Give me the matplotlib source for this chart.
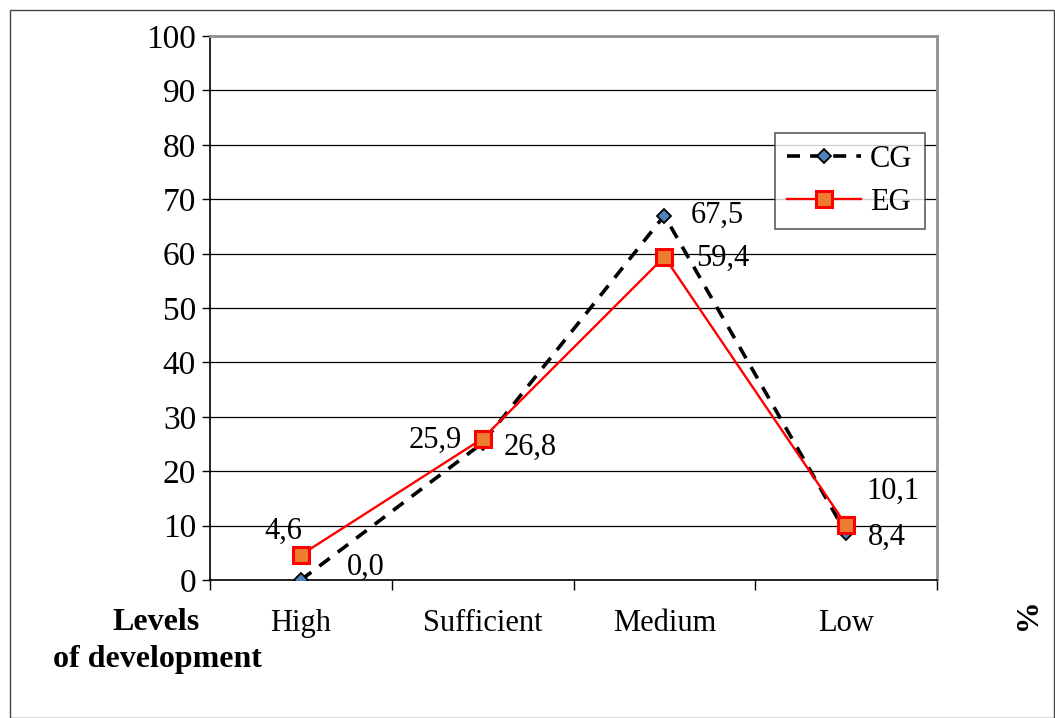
import matplotlib.pyplot as plt
from matplotlib.patches import Rectangle

categories = ["High", "Sufficient", "Medium", "Low"]
cg = [0.0, 25.2, 67.0, 8.6]
eg = [4.6, 26.0, 59.4, 10.1]
cg_labels = ["0,0", "26,8", "67,5", "8,4"]
eg_labels = ["4,6", "25,9", "59,4", "10,1"]
yticks = [0, 10, 20, 30, 40, 50, 60, 70, 80, 90, 100]

plt.rcParams['font.family'] = ['Liberation Serif', 'DejaVu Serif']

fig = plt.figure(figsize=(10.55, 7.18), dpi=100)
ax = fig.add_axes([210/1055, 1 - 580/718, 727/1055, 544/718])

x = range(len(categories))
ax.plot(x, cg, color="black", lw=2.6, dashes=(3.6, 2.8), marker="D", ms=7.5,
        mfc="#4f81bd", mec="black", mew=1.3, label="CG", zorder=3)
ax.plot(x, eg, color="red", lw=1.7, marker="s", ms=11,
        mfc="#ed7d31", mec="red", mew=2.2, label="EG", zorder=4)

# label offsets in points
cg_off = [(47, 9), (34, -3), (38, 0), (29, -3)]
eg_off = [(-13, 17), (-34, -1), (42, -1), (34, 24)]
for i in x:
    ax.annotate(cg_labels[i], (i, cg[i]), xytext=cg_off[i], textcoords="offset points",
                ha="center", va="center", fontsize=22)
    ax.annotate(eg_labels[i], (i, eg[i]), xytext=eg_off[i], textcoords="offset points",
                ha="center", va="center", fontsize=22)

ax.set_xlim(-0.5, 3.5)
ax.set_ylim(0, 100)
ax.set_yticks(yticks)
ax.set_yticklabels([str(v) for v in yticks], fontsize=24)
ax.yaxis.grid(True, color="black", lw=0.9)
ax.set_axisbelow(True)
ax.tick_params(axis="y", length=6, width=1, pad=4)

# category boundaries as ticks
ax.set_xticks([-0.5, 0.5, 1.5, 2.5, 3.5])
ax.set_xticklabels([])
ax.set_xticks(list(x), minor=True)
ax.set_xticklabels(categories, minor=True, fontsize=22)
ax.tick_params(axis="x", which="major", length=7, width=1, direction="out")
ax.tick_params(axis="x", which="minor", length=0, pad=21)

for s in ["top", "right"]:
    ax.spines[s].set_color("#909090")
    ax.spines[s].set_linewidth(2)
ax.spines["left"].set_linewidth(1.2)
ax.spines["bottom"].set_linewidth(1.2)

leg = ax.legend(loc="upper right", bbox_to_anchor=(0.983, 0.822), borderaxespad=0,
                fontsize=22, frameon=True, fancybox=False, edgecolor="#333333",
                handlelength=2.4, handletextpad=0.3, borderpad=0.4, labelspacing=0.45)
leg.get_frame().set_linewidth(1.2)

fig.text(200/1055, 1 - 622/718, "Levels", ha="right", va="center",
         fontsize=23, fontweight="bold")
fig.text(262/1055, 1 - 660/718, "of development", ha="right", va="center",
         fontsize=23, fontweight="bold")
fig.text(1020/1055, 1 - 620/718, "%", ha="center", va="center",
         fontsize=23, fontweight="bold", rotation=270)

fig.patches.append(Rectangle((10/1055, 0), 1044/1055, 1 - 10/718, transform=fig.transFigure,
                             fill=False, edgecolor="#444444", lw=1))

fig.savefig("out.png", dpi=100)
